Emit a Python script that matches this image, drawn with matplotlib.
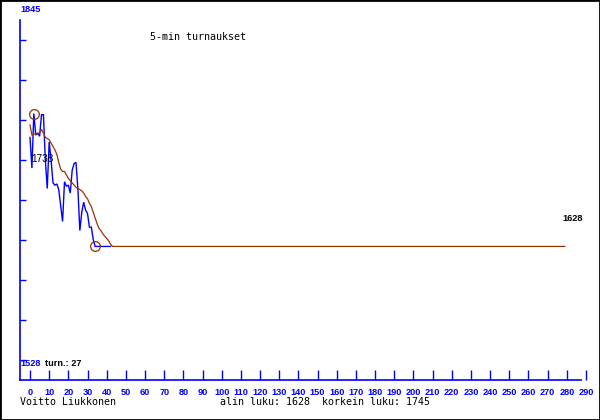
import matplotlib
matplotlib.use("Agg")
import matplotlib.pyplot as plt
from matplotlib.patches import Rectangle

# ---- data ----
blue_vals = [1724, 1697, 1745, 1726, 1728, 1725, 1744, 1744, 1704, 1679,
             1720, 1704, 1684, 1682, 1683, 1678, 1664, 1650, 1685, 1681,
             1682, 1675, 1695, 1701, 1702, 1678, 1642, 1658, 1667, 1660,
             1657, 1645, 1645, 1634, 1628, 1628, 1628, 1628, 1628, 1628,
             1628, 1628, 1628]
brown_head = [1735, 1726, 1727, 1727, 1727, 1728, 1731, 1728, 1724, 1723,
              1722, 1719, 1716, 1713, 1709, 1702, 1696, 1694, 1694, 1691,
              1688, 1686, 1684, 1682, 1680, 1679, 1678, 1677, 1675, 1672,
              1670, 1666, 1663, 1658, 1653, 1648, 1644, 1642, 1639, 1637,
              1635, 1633, 1630, 1628]
brown_end = 279
x_ticks = list(range(0, 300, 10))
y_min_label = 1528
y_max_label = 1845
min_value = 1628
max_value = 1745
last_value = 1628
start_label = 1738
turns = 27
max_x = 2
min_x = 34

brown_x = list(range(len(brown_head))) + [brown_end]
brown_vals = brown_head + [brown_head[-1]]
blue_x = list(range(len(blue_vals)))

SMALL = "Liberation Sans"
ssize = 6.6

W, H = 600, 420
fig = plt.figure(figsize=(6, 4.2), dpi=100)
fig.patch.set_facecolor("white")
fig.patches.append(Rectangle((0, 0), 1, 1, transform=fig.transFigure,
                             fill=False, edgecolor="black", linewidth=2.0))

PX = 1.917                      # pixels per x unit
VS = (y_max_label - y_min_label) / 360.0  # value per pixel

ax_left, ax_right, ax_top, ax_bottom = 20, 590, 20, 380
ax = fig.add_axes([ax_left / W, (H - ax_bottom) / H,
                   (ax_right - ax_left) / W, (ax_bottom - ax_top) / H])
ax.set_xlim((ax_left - 30) / PX, (ax_right - 30) / PX)
ax.set_ylim(y_min_label - 20 * VS, y_max_label - 20 * VS)
ax.patch.set_alpha(0)

blue = "#0000ff"
brown = "#993300"

for s in ("top", "right"):
    ax.spines[s].set_visible(False)
for s in ("left", "bottom"):
    ax.spines[s].set_color(blue)
    ax.spines[s].set_linewidth(1.2)
ax.spines["bottom"].set_bounds((ax_left - 30) / PX, (581 - 30) / PX)

ax.set_xticks(x_ticks)
ax.set_xticklabels([str(t) for t in x_ticks])
ax.tick_params(axis="x", direction="in", length=7.2, width=1, color=blue,
               labelcolor=blue, labelsize=ssize, pad=5.5)
for lab in ax.get_xticklabels():
    lab.set_fontweight("bold")
    lab.set_family(SMALL)

yt = [y_min_label + k * 40 * VS for k in range(9)]
ax.set_yticks(yt)
ax.set_yticklabels([])
ax.tick_params(axis="y", direction="in", length=4, width=1, color=blue)

ax.plot(blue_x, blue_vals, color=blue, lw=1.0, solid_joinstyle="miter")
ax.plot(brown_x, brown_vals, color=brown, lw=0.9)
ax.plot([max_x], [max_value], marker="o", ms=7, mfc="none", mec=brown, mew=0.9)
ax.plot([min_x], [min_value], marker="o", ms=7, mfc="none", mec=brown, mew=0.9)

ax.annotate(str(last_value), (brown_end, last_value), xytext=(-1.5, 20),
            textcoords="offset points", ha="left", va="center",
            fontsize=ssize, family=SMALL, fontweight="bold")
ax.annotate(str(start_label), (0, start_label), xytext=(1, -27),
            textcoords="offset points", ha="left", va="center",
            fontsize=7.2, family=SMALL)


def ftext(x, y, s, **kw):
    fig.text(x / W, 1 - y / H, s, **kw)


ftext(20, 9, str(y_max_label), color=blue, fontsize=ssize, fontweight="bold",
      family=SMALL, va="center", ha="left")
ftext(20, 364, str(y_min_label), color=blue, fontsize=ssize, fontweight="bold",
      family=SMALL, va="center", ha="left")
ftext(45, 364, "turn.: %d" % turns, color="black", fontsize=ssize,
      fontweight="bold", family=SMALL, va="center", ha="left")
ftext(150, 37, "5-min turnaukset", fontsize=7.2, family="DejaVu Sans Mono",
      va="center", ha="left")
ftext(20, 402, "Voitto Liukkonen", fontsize=7.2, family="DejaVu Sans Mono",
      va="center", ha="left")
ftext(220, 402, "alin luku: %d  korkein luku: %d" % (min_value, max_value),
      fontsize=7.2, family="DejaVu Sans Mono", va="center", ha="left")

fig.savefig("out.png", dpi=100)
